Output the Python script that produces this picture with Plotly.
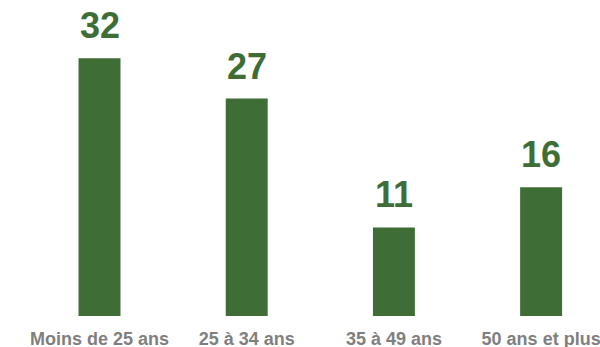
import plotly.graph_objects as go

# Age groups and their values
categories = ["Moins de 25 ans", "25 à 34 ans", "35 à 49 ans", "50 ans et plus"]
values = [32, 27, 11, 16]

bar_color = "#3e6d36"
label_color = "#7f7f7f"

fig = go.Figure()
fig.add_trace(go.Bar(
    x=categories,
    y=values,
    marker=dict(color=bar_color, line=dict(width=0)),
    width=0.285,
    hoverinfo="skip",
))

# Value labels above each bar
for c, v in zip(categories, values):
    fig.add_annotation(
        x=c, y=v, text=f"<b>{v}</b>", showarrow=False,
        yanchor="bottom", yshift=10,
        font=dict(family="Liberation Sans, Arial, sans-serif", size=36, color=bar_color),
    )

fig.update_layout(
    width=600, height=347,
    margin=dict(l=0, r=0, t=0, b=31),
    paper_bgcolor="white", plot_bgcolor="white",
    showlegend=False,
    xaxis=dict(
        range=[-0.676, 3.40],
        automargin=False,
        showgrid=False, zeroline=False, showline=False,
        ticks="outside", ticklen=6, tickcolor="rgba(0,0,0,0)",
        tickfont=dict(family="Liberation Sans, Arial, sans-serif", size=18, color=label_color),
        tickprefix="<b>", ticksuffix="</b>",
    ),
    yaxis=dict(
        range=[0, 39.25], visible=False,
    ),
)

fig.write_html("out.html")
